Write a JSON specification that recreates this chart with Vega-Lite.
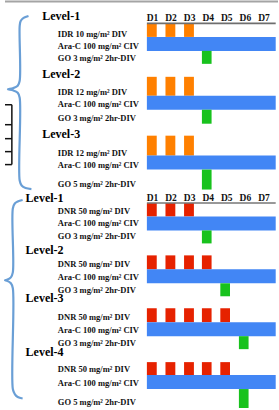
{
  "$schema": "https://vega.github.io/schema/vega-lite/v6.json",
  "width": 279,
  "height": 410,
  "padding": 0,
  "autosize": {"type": "fit", "contains": "padding"},
  "background": "white",
  "config": {"view": {"stroke": null}, "text": {"font": "Liberation Serif, Times New Roman, serif"}},
  "datasets": {
    "bars": [
      {"sec": "top", "level": 1, "drug": "IDR", "start": 0, "end": 0.53, "top": 23, "bottom": 36},
      {"sec": "top", "level": 1, "drug": "IDR", "start": 1, "end": 1.53, "top": 23, "bottom": 36},
      {"sec": "top", "level": 1, "drug": "IDR", "start": 2, "end": 2.53, "top": 23, "bottom": 36},
      {"sec": "top", "level": 1, "drug": "Ara-C", "start": 0, "end": 6.93, "top": 36, "bottom": 50},
      {"sec": "top", "level": 1, "drug": "GO", "start": 2.96, "end": 3.48, "top": 50, "bottom": 63},
      {"sec": "top", "level": 2, "drug": "IDR", "start": 0, "end": 0.53, "top": 76, "bottom": 95},
      {"sec": "top", "level": 2, "drug": "IDR", "start": 1, "end": 1.53, "top": 76, "bottom": 95},
      {"sec": "top", "level": 2, "drug": "IDR", "start": 2, "end": 2.53, "top": 76, "bottom": 95},
      {"sec": "top", "level": 2, "drug": "Ara-C", "start": 0, "end": 6.93, "top": 95, "bottom": 109},
      {"sec": "top", "level": 2, "drug": "GO", "start": 2.96, "end": 3.48, "top": 109, "bottom": 123},
      {"sec": "top", "level": 3, "drug": "IDR", "start": 0, "end": 0.53, "top": 135, "bottom": 155},
      {"sec": "top", "level": 3, "drug": "IDR", "start": 1, "end": 1.53, "top": 135, "bottom": 155},
      {"sec": "top", "level": 3, "drug": "IDR", "start": 2, "end": 2.53, "top": 135, "bottom": 155},
      {"sec": "top", "level": 3, "drug": "Ara-C", "start": 0, "end": 6.93, "top": 155, "bottom": 169},
      {"sec": "top", "level": 3, "drug": "GO", "start": 2.96, "end": 3.48, "top": 169, "bottom": 189},
      {"sec": "bottom", "level": 1, "drug": "DNR", "start": 0, "end": 0.53, "top": 203, "bottom": 216},
      {"sec": "bottom", "level": 1, "drug": "DNR", "start": 1, "end": 1.53, "top": 203, "bottom": 216},
      {"sec": "bottom", "level": 1, "drug": "DNR", "start": 2, "end": 2.53, "top": 203, "bottom": 216},
      {"sec": "bottom", "level": 1, "drug": "Ara-C", "start": 0, "end": 6.93, "top": 216, "bottom": 230},
      {"sec": "bottom", "level": 1, "drug": "GO", "start": 2.96, "end": 3.48, "top": 230, "bottom": 243},
      {"sec": "bottom", "level": 2, "drug": "DNR", "start": 0, "end": 0.53, "top": 255, "bottom": 269},
      {"sec": "bottom", "level": 2, "drug": "DNR", "start": 1, "end": 1.53, "top": 255, "bottom": 269},
      {"sec": "bottom", "level": 2, "drug": "DNR", "start": 2, "end": 2.53, "top": 255, "bottom": 269},
      {"sec": "bottom", "level": 2, "drug": "DNR", "start": 2.96, "end": 3.48, "top": 255, "bottom": 269},
      {"sec": "bottom", "level": 2, "drug": "Ara-C", "start": 0, "end": 6.93, "top": 269, "bottom": 283},
      {"sec": "bottom", "level": 2, "drug": "GO", "start": 3.95, "end": 4.47, "top": 283, "bottom": 296},
      {"sec": "bottom", "level": 3, "drug": "DNR", "start": 0, "end": 0.53, "top": 308, "bottom": 322},
      {"sec": "bottom", "level": 3, "drug": "DNR", "start": 1, "end": 1.53, "top": 308, "bottom": 322},
      {"sec": "bottom", "level": 3, "drug": "DNR", "start": 2, "end": 2.53, "top": 308, "bottom": 322},
      {"sec": "bottom", "level": 3, "drug": "DNR", "start": 2.96, "end": 3.48, "top": 308, "bottom": 322},
      {"sec": "bottom", "level": 3, "drug": "DNR", "start": 3.95, "end": 4.47, "top": 308, "bottom": 322},
      {"sec": "bottom", "level": 3, "drug": "Ara-C", "start": 0, "end": 6.93, "top": 322, "bottom": 336},
      {"sec": "bottom", "level": 3, "drug": "GO", "start": 4.95, "end": 5.47, "top": 336, "bottom": 349},
      {"sec": "bottom", "level": 4, "drug": "DNR", "start": 0, "end": 0.53, "top": 362, "bottom": 375},
      {"sec": "bottom", "level": 4, "drug": "DNR", "start": 1, "end": 1.53, "top": 362, "bottom": 375},
      {"sec": "bottom", "level": 4, "drug": "DNR", "start": 2, "end": 2.53, "top": 362, "bottom": 375},
      {"sec": "bottom", "level": 4, "drug": "DNR", "start": 2.96, "end": 3.48, "top": 362, "bottom": 375},
      {"sec": "bottom", "level": 4, "drug": "DNR", "start": 3.95, "end": 4.47, "top": 362, "bottom": 375},
      {"sec": "bottom", "level": 4, "drug": "Ara-C", "start": 0, "end": 6.93, "top": 375, "bottom": 389},
      {"sec": "bottom", "level": 4, "drug": "GO", "start": 4.95, "end": 5.47, "top": 389, "bottom": 408}
    ],
    "labels": [
      {"kind": "level", "text": "Level-1", "x": -5.632, "y": 15},
      {"kind": "drug", "text": "IDR 10 mg/m² DIV", "x": -4.789, "y": 33},
      {"kind": "drug", "text": "Ara-C 100 mg/m² CIV", "x": -4.789, "y": 45},
      {"kind": "drug", "text": "GO 3 mg/m² 2hr-DIV", "x": -4.789, "y": 57},
      {"kind": "level", "text": "Level-2", "x": -5.632, "y": 73},
      {"kind": "drug", "text": "IDR 12 mg/m² DIV", "x": -4.789, "y": 91},
      {"kind": "drug", "text": "Ara-C 100 mg/m² CIV", "x": -4.789, "y": 103},
      {"kind": "drug", "text": "GO 3 mg/m² 2hr-DIV", "x": -4.789, "y": 117},
      {"kind": "level", "text": "Level-3", "x": -5.632, "y": 133},
      {"kind": "drug", "text": "IDR 12 mg/m² DIV", "x": -4.789, "y": 152},
      {"kind": "drug", "text": "Ara-C 100 mg/m² CIV", "x": -4.789, "y": 164},
      {"kind": "drug", "text": "GO 5 mg/m² 2hr-DIV", "x": -4.789, "y": 183},
      {"kind": "level", "text": "Level-1", "x": -6.526, "y": 197},
      {"kind": "drug", "text": "DNR 50 mg/m² DIV", "x": -4.789, "y": 211},
      {"kind": "drug", "text": "Ara-C 100 mg/m² CIV", "x": -4.789, "y": 223},
      {"kind": "drug", "text": "GO 3 mg/m² 2hr-DIV", "x": -4.789, "y": 236},
      {"kind": "level", "text": "Level-2", "x": -6.526, "y": 250},
      {"kind": "drug", "text": "DNR 50 mg/m² DIV", "x": -4.789, "y": 264},
      {"kind": "drug", "text": "Ara-C 100 mg/m² CIV", "x": -4.789, "y": 277},
      {"kind": "drug", "text": "GO 3 mg/m² 2hr-DIV", "x": -4.789, "y": 290},
      {"kind": "level", "text": "Level-3", "x": -6.526, "y": 298},
      {"kind": "drug", "text": "DNR 50 mg/m² DIV", "x": -4.789, "y": 317},
      {"kind": "drug", "text": "Ara-C 100 mg/m² CIV", "x": -4.789, "y": 330},
      {"kind": "drug", "text": "GO 3 mg/m² 2hr-DIV", "x": -4.789, "y": 343},
      {"kind": "level", "text": "Level-4", "x": -6.526, "y": 352},
      {"kind": "drug", "text": "DNR 50 mg/m² DIV", "x": -4.789, "y": 369},
      {"kind": "drug", "text": "Ara-C 100 mg/m² CIV", "x": -4.789, "y": 383},
      {"kind": "drug", "text": "GO 5 mg/m² 2hr-DIV", "x": -4.789, "y": 402}
    ],
    "days": [
      {"text": "D1", "x": 0.3, "y": 17}, {"text": "D2", "x": 1.3, "y": 17}, {"text": "D3", "x": 2.3, "y": 17},
      {"text": "D4", "x": 3.3, "y": 17}, {"text": "D5", "x": 4.3, "y": 17}, {"text": "D6", "x": 5.3, "y": 17},
      {"text": "D7", "x": 6.3, "y": 17},
      {"text": "D1", "x": 0.3, "y": 197}, {"text": "D2", "x": 1.3, "y": 197}, {"text": "D3", "x": 2.3, "y": 197},
      {"text": "D4", "x": 3.3, "y": 197}, {"text": "D5", "x": 4.3, "y": 197}, {"text": "D6", "x": 5.3, "y": 197},
      {"text": "D7", "x": 6.3, "y": 197}
    ],
    "rules": [
      {"kind": "border", "x": -7.632, "x2": 7.053, "y": 0.5, "y2": 0.5},
      {"kind": "axis1", "x": 0, "x2": 6.93, "y": 22.5, "y2": 22.5},
      {"kind": "axis2", "x": 0, "x2": 6.93, "y": 202.5, "y2": 202.5},
      {"kind": "table", "x": -7.632, "x2": -7.263, "y": 104, "y2": 104},
      {"kind": "table", "x": -7.632, "x2": -7.263, "y": 124, "y2": 124},
      {"kind": "table", "x": -7.632, "x2": -7.263, "y": 138, "y2": 138},
      {"kind": "table", "x": -7.632, "x2": -7.263, "y": 151, "y2": 151},
      {"kind": "table", "x": -7.632, "x2": -7.263, "y": 164, "y2": 164},
      {"kind": "table", "x": -7.263, "x2": -7.263, "y": 104, "y2": 164}
    ],
    "braces": [
      {"brace": "top", "i": 1, "x": -6.368, "y": 15},
      {"brace": "top", "i": 2, "x": -6.632, "y": 17},
      {"brace": "top", "i": 3, "x": -6.789, "y": 20},
      {"brace": "top", "i": 4, "x": -6.842, "y": 25},
      {"brace": "top", "i": 5, "x": -6.842, "y": 80},
      {"brace": "top", "i": 6, "x": -6.947, "y": 85},
      {"brace": "top", "i": 7, "x": -7.211, "y": 87.5},
      {"brace": "top", "i": 8, "x": -7.474, "y": 88.5},
      {"brace": "top", "i": 9, "x": -7.211, "y": 89.5},
      {"brace": "top", "i": 10, "x": -6.947, "y": 92},
      {"brace": "top", "i": 11, "x": -6.842, "y": 97},
      {"brace": "top", "i": 12, "x": -6.842, "y": 180},
      {"brace": "top", "i": 13, "x": -6.737, "y": 185},
      {"brace": "top", "i": 14, "x": -6.526, "y": 187.5},
      {"brace": "top", "i": 15, "x": -6.211, "y": 188.5},
      {"brace": "bottom", "i": 1, "x": -6.684, "y": 199.5},
      {"brace": "bottom", "i": 2, "x": -6.947, "y": 201},
      {"brace": "bottom", "i": 3, "x": -7.105, "y": 203},
      {"brace": "bottom", "i": 4, "x": -7.211, "y": 208},
      {"brace": "bottom", "i": 5, "x": -7.211, "y": 272},
      {"brace": "bottom", "i": 6, "x": -7.316, "y": 277},
      {"brace": "bottom", "i": 7, "x": -7.526, "y": 279.5},
      {"brace": "bottom", "i": 8, "x": -7.632, "y": 280},
      {"brace": "bottom", "i": 9, "x": -7.526, "y": 280.5},
      {"brace": "bottom", "i": 10, "x": -7.316, "y": 283},
      {"brace": "bottom", "i": 11, "x": -7.211, "y": 288},
      {"brace": "bottom", "i": 12, "x": -7.211, "y": 389},
      {"brace": "bottom", "i": 13, "x": -7.105, "y": 394},
      {"brace": "bottom", "i": 14, "x": -6.947, "y": 397},
      {"brace": "bottom", "i": 15, "x": -6.684, "y": 398.5}
    ]
  },
  "layer": [
    {
      "data": {"name": "bars"},
      "mark": {"type": "rect"},
      "encoding": {
        "x": {"field": "start", "type": "quantitative", "scale": {"domain": [-7.632, 7.053], "nice": false, "zero": false}, "axis": null},
        "x2": {"field": "end"},
        "y": {"field": "top", "type": "quantitative", "scale": {"domain": [0, 410], "nice": false, "zero": false, "reverse": true}, "axis": null},
        "y2": {"field": "bottom"},
        "color": {"field": "drug", "type": "nominal", "legend": null,
          "scale": {"domain": ["IDR", "DNR", "Ara-C", "GO"], "range": ["#ff8000", "#e62200", "#4286f5", "#18c21d"]}}
      }
    },
    {
      "data": {"name": "rules"},
      "transform": [{"filter": "datum.kind === 'border'"}],
      "mark": {"type": "rule", "color": "#a4a4a4", "strokeWidth": 2},
      "encoding": {
        "x": {"field": "x", "type": "quantitative"}, "x2": {"field": "x2"},
        "y": {"field": "y", "type": "quantitative"}, "y2": {"field": "y2"}
      }
    },
    {
      "data": {"name": "rules"},
      "transform": [{"filter": "datum.kind === 'axis1'"}],
      "mark": {"type": "rule", "color": "#6e6e6e", "strokeWidth": 1.7},
      "encoding": {
        "x": {"field": "x", "type": "quantitative"}, "x2": {"field": "x2"},
        "y": {"field": "y", "type": "quantitative"}, "y2": {"field": "y2"}
      }
    },
    {
      "data": {"name": "rules"},
      "transform": [{"filter": "datum.kind === 'axis2'"}],
      "mark": {"type": "rule", "color": "#333333", "strokeWidth": 1},
      "encoding": {
        "x": {"field": "x", "type": "quantitative"}, "x2": {"field": "x2"},
        "y": {"field": "y", "type": "quantitative"}, "y2": {"field": "y2"}
      }
    },
    {
      "data": {"name": "rules"},
      "transform": [{"filter": "datum.kind === 'table'"}],
      "mark": {"type": "rule", "color": "#111111", "strokeWidth": 1.5},
      "encoding": {
        "x": {"field": "x", "type": "quantitative"}, "x2": {"field": "x2"},
        "y": {"field": "y", "type": "quantitative"}, "y2": {"field": "y2"}
      }
    },
    {
      "data": {"name": "braces"},
      "mark": {"type": "line", "color": "#6a9fd6", "strokeWidth": 2.2, "interpolate": "catmull-rom"},
      "encoding": {
        "x": {"field": "x", "type": "quantitative"},
        "y": {"field": "y", "type": "quantitative"},
        "detail": {"field": "brace", "type": "nominal"},
        "order": {"field": "i", "type": "quantitative"}
      }
    },
    {
      "data": {"name": "days"},
      "mark": {"type": "text", "font": "Liberation Serif, Times New Roman, serif", "fontWeight": "bold", "fontSize": 9.5, "align": "center", "baseline": "middle", "color": "#111111"},
      "encoding": {
        "x": {"field": "x", "type": "quantitative"},
        "y": {"field": "y", "type": "quantitative"},
        "text": {"field": "text"}
      }
    },
    {
      "data": {"name": "labels"},
      "transform": [{"filter": "datum.kind === 'level'"}],
      "mark": {"type": "text", "font": "Liberation Serif, Times New Roman, serif", "fontWeight": "bold", "fontSize": 12, "align": "left", "baseline": "middle", "color": "#000000"},
      "encoding": {
        "x": {"field": "x", "type": "quantitative"},
        "y": {"field": "y", "type": "quantitative"},
        "text": {"field": "text"}
      }
    },
    {
      "data": {"name": "labels"},
      "transform": [{"filter": "datum.kind === 'drug'"}],
      "mark": {"type": "text", "font": "Liberation Serif, Times New Roman, serif", "fontWeight": "bold", "fontSize": 8.5, "align": "left", "baseline": "middle", "color": "#111111"},
      "encoding": {
        "x": {"field": "x", "type": "quantitative"},
        "y": {"field": "y", "type": "quantitative"},
        "text": {"field": "text"}
      }
    }
  ]
}
